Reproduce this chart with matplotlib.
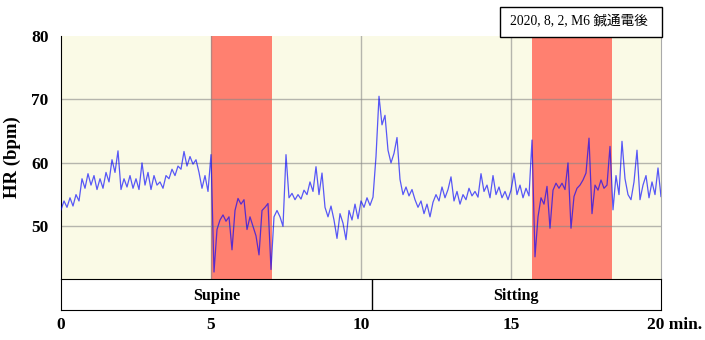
import numpy as np
import matplotlib
matplotlib.use("Agg")
import matplotlib.pyplot as plt
from matplotlib.patches import Rectangle

# heart rate, one reading every 0.1 min
hr_0_5 = [52.6, 54.0, 53.0, 54.5, 53.2, 55.0, 54.0, 57.5, 56.0, 58.3,
          56.5, 58.0, 55.8, 57.5, 56.0, 58.5, 57.0, 60.5, 58.5, 61.9,
          55.8, 57.5, 56.2, 58.0, 56.0, 57.5, 55.8, 60.0, 56.5, 58.5,
          55.8, 58.0, 56.5, 57.0, 56.0, 58.0, 57.5, 59.0, 58.0, 59.5,
          59.0, 61.8, 59.5, 61.0, 59.8, 60.5, 58.5, 56.0, 58.0, 55.5]
hr_5_10 = [61.3, 42.8, 49.5, 51.0, 51.8, 50.8, 51.5, 46.3, 52.5, 54.4,
           53.5, 54.2, 49.5, 51.5, 50.0, 48.5, 45.5, 52.5, 53.0, 53.6,
           43.2, 51.5, 52.5, 51.5, 50.0, 61.3, 54.5, 55.2, 54.2, 55.0,
           54.3, 55.7, 55.0, 57.0, 55.5, 59.4, 55.0, 58.4, 53.0, 51.5,
           53.2, 51.0, 48.1, 52.0, 50.5, 47.9, 52.5, 51.0, 53.5, 51.2]
hr_10_15 = [54.0, 53.0, 54.5, 53.3, 54.6, 61.0, 70.5, 66.0, 67.5, 62.0,
            60.0, 61.5, 64.0, 57.4, 55.0, 56.2, 54.8, 55.8, 54.2, 53.0,
            54.0, 52.0, 53.5, 51.5, 53.8, 55.0, 54.0, 56.2, 54.5, 55.8,
            57.8, 54.0, 55.5, 53.5, 55.0, 54.2, 56.0, 54.8, 55.5, 54.6,
            58.3, 55.5, 56.5, 54.5, 58.0, 55.0, 56.2, 54.5, 55.5, 54.2]
hr_15_20 = [55.7, 58.4, 55.0, 56.5, 54.5, 56.0, 54.8, 63.6, 45.2, 51.5,
            54.5, 53.5, 56.3, 49.7, 55.7, 56.8, 56.0, 56.8, 55.8, 60.0,
            49.7, 54.7, 56.0, 56.5, 57.3, 58.4, 63.9, 52.0, 56.5, 55.7,
            57.3, 56.0, 56.5, 62.6, 52.6, 58.0, 55.0, 63.4, 57.5, 55.0,
            54.2, 57.0, 62.0, 54.2, 56.5, 58.0, 54.5, 57.0, 55.0, 59.2, 54.7]
hr = np.array(hr_0_5 + hr_5_10 + hr_10_15 + hr_15_20)
minutes = np.round(np.arange(len(hr)) * 0.1, 1)

# stimulation periods (min)
stim_periods = [(5.0, 7.03), (15.7, 18.37)]
# posture phases
phases = ["Supine", "Sitting"]
phase_edges = [0, 10.35, 20]

title_note = "2020, 8, 2, M6 鍼通電後"
xticks = [0, 5, 10, 15, 20]
yticks = [50, 60, 70, 80]

serif = ["Liberation Serif", "Noto Sans CJK JP"]
bg = "#fafae6"
fs = 12.5

fig = plt.figure(figsize=(7.05, 3.4), dpi=100)

ax = fig.add_axes([61 / 705, 1 - 279 / 340, 600 / 705, 243 / 340])
ax.set_facecolor(bg)
for a, b in stim_periods:
    ax.axvspan(a, b, color="#ff8070", lw=0, zorder=1)
ax.plot(minutes, hr, color="#0000ff", alpha=0.65, lw=0.9, zorder=3)
for y in yticks[:-1]:
    ax.axhline(y, color="#888888", lw=1, alpha=0.6, zorder=2)
for x in xticks[1:-1]:
    ax.axvline(x, color="#888888", lw=1, alpha=0.6, zorder=2)
ax.set_xlim(0, 20)
ax.set_ylim(41.7, 80)
ax.set_xticks([])
ax.set_yticks(yticks)
ax.set_yticklabels([str(v) for v in yticks], fontfamily=serif,
                   fontweight="bold", fontsize=fs)
ax.tick_params(axis="y", length=0, pad=9)
ax.set_ylabel("HR (bpm)", fontfamily=serif, fontweight="bold",
              fontsize=13.5, labelpad=7)
ax.spines["top"].set_visible(False)
ax.spines["bottom"].set_visible(False)
ax.spines["right"].set_color("#aaaaaa")
ax.spines["left"].set_color("black")

# posture bar
bar = fig.add_axes([61 / 705, 1 - 310 / 340, 600 / 705, 31 / 340])
bar.set_xlim(0, 20)
bar.set_ylim(0, 1)
bar.set_yticks([])
for i, name in enumerate(phases):
    bar.text((phase_edges[i] + phase_edges[i + 1]) / 2, 0.45, name,
             ha="center", va="center", fontfamily=serif,
             fontweight="bold", fontsize=11.5)
for e in phase_edges[1:-1]:
    bar.axvline(e, color="black", lw=1)
bar.set_xticks(xticks[:-1])
bar.set_xticklabels([str(v) for v in xticks[:-1]], fontfamily=serif,
                    fontweight="bold", fontsize=fs)
bar.tick_params(axis="x", length=0, pad=5)
bar.annotate(f"{xticks[-1]} min.", xy=(xticks[-1], 0), xycoords="data",
             xytext=(-10, -5), textcoords="offset points", ha="left",
             va="top", fontfamily=serif, fontweight="bold", fontsize=fs,
             annotation_clip=False)

# note box
fig.patches.append(Rectangle((500 / 705, 1 - 37 / 340), 162 / 705, 30 / 340,
                             transform=fig.transFigure, facecolor="white",
                             edgecolor="black", lw=1))
fig.text(510 / 705, 1 - 22 / 340, title_note, ha="left", va="center",
         fontfamily=serif, fontsize=9.8)

fig.savefig("out.png", dpi=100)
